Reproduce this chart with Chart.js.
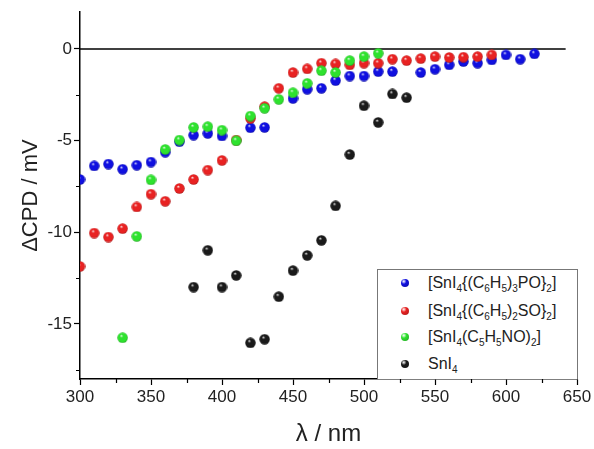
<!DOCTYPE html>
<html>
<head>
<meta charset="utf-8">
<script src="https://cdn.jsdelivr.net/npm/chart.js@4/dist/chart.umd.min.js"></script>
<style>
  html, body { margin: 0; padding: 0; background: #fff; }
  #wrap { position: relative; width: 594px; height: 449px; }
  #legend {
    position: absolute; left: 377px; top: 269px; width: 199px; height: 109px;
    border: 1px solid #777; border-bottom: none; background: #fff;
    font-family: "Liberation Sans", Arial, sans-serif; font-size: 16px; color: #222;
  }
  .row { position: absolute; left: 0; height: 20px; line-height: 20px; white-space: nowrap; }
  .dot { position: absolute; left: 23px; top: 6px; width: 8px; height: 8px; border-radius: 50%; }
  .lbl { position: absolute; left: 50px; top: 0; }
  sub { font-size: 10px; vertical-align: -4px; line-height: 0; }
</style>
</head>
<body>
<div id="wrap">
  <canvas id="chart" width="594" height="449"></canvas>
  <div id="legend"></div>
</div>
<script>
// --- data ---
const blueX = [300, 310, 320, 330, 340, 350, 360, 370, 380, 390, 400, 420, 430, 450, 460, 470, 480, 490, 500, 510, 520, 540, 550, 560, 570, 580, 590, 600, 610, 620];
const blueY = [-7.12, -6.38, -6.28, -6.56, -6.34, -6.17, -5.63, -5.06, -4.70, -4.61, -4.75, -4.30, -4.28, -2.70, -2.20, -2.15, -1.73, -1.48, -1.48, -1.24, -1.24, -1.29, -1.11, -0.87, -0.69, -0.78, -0.60, -0.33, -0.56, -0.27];

const redX = [300, 310, 320, 330, 340, 350, 360, 370, 380, 390, 400, 410, 420, 430, 440, 450, 460, 470, 480, 490, 500, 510, 520, 530, 540, 550, 560, 570, 580, 590];
const redY = [-11.86, -10.04, -10.26, -9.80, -8.62, -7.92, -8.31, -7.61, -7.12, -6.61, -6.08, -4.97, -3.79, -3.15, -2.15, -1.29, -1.09, -0.78, -0.82, -0.87, -0.78, -0.78, -0.56, -0.64, -0.53, -0.42, -0.47, -0.45, -0.42, -0.33];

const greenX = [330, 340, 350, 360, 370, 380, 390, 400, 410, 420, 430, 440, 450, 460, 470, 480, 490, 500, 510];
const greenY = [-15.75, -10.22, -7.14, -5.48, -4.97, -4.28, -4.24, -4.43, -5.01, -3.66, -3.24, -2.75, -2.39, -1.88, -1.19, -1.29, -0.64, -0.42, -0.24];

const blackX = [380, 390, 400, 410, 420, 430, 440, 450, 460, 470, 480, 490, 500, 510, 520, 530];
const blackY = [-12.99, -10.98, -12.99, -12.35, -16.03, -15.83, -13.51, -12.09, -11.26, -10.44, -8.56, -5.76, -3.10, -4.01, -2.46, -2.66];

const seriesNames = [
  '[SnI<sub>4</sub>{(C<sub>6</sub>H<sub>5</sub>)<sub>3</sub>PO}<sub>2</sub>]',
  '[SnI<sub>4</sub>{(C<sub>6</sub>H<sub>5</sub>)<sub>2</sub>SO}<sub>2</sub>]',
  '[SnI<sub>4</sub>(C<sub>5</sub>H<sub>5</sub>NO)<sub>2</sub>]',
  'SnI<sub>4</sub>'
];
const seriesColors = ['#1010e0', '#e82222', '#2ee22e', '#1a1a1a'];

const zeroLineX = [300, 642];
const zeroLineY = [0, 0];

const xTicks = [300, 325, 350, 375, 400, 425, 450, 475, 500, 525, 550, 575, 600, 625, 650];
const xLabels = ['300', '', '350', '', '400', '', '450', '', '500', '', '550', '', '600', '', '650'];
const yTicks = [-17.5, -15, -12.5, -10, -7.5, -5, -2.5, 0];
const yLabels = ['', '-15', '', '-10', '', '-5', '', '0'];

const FONT = '"Liberation Sans", Arial, sans-serif';

// shaded ball marker
function ball(color, size) {
  const c = document.createElement('canvas');
  c.width = size; c.height = size;
  const g = c.getContext('2d');
  const r = size / 2;
  const grad = g.createRadialGradient(r * 0.75, r * 0.6, 0, r, r, r);
  grad.addColorStop(0, '#ffffff');
  grad.addColorStop(0.3, color);
  grad.addColorStop(0.8, color);
  grad.addColorStop(1, shade(color));
  g.fillStyle = grad;
  g.beginPath();
  g.arc(r, r, r - 0.3, 0, Math.PI * 2);
  g.fill();
  return c;
}
function shade(hex) {
  const n = parseInt(hex.slice(1), 16);
  const f = v => Math.round(v * 0.7);
  return `rgb(${f(n >> 16)},${f((n >> 8) & 255)},${f(n & 255)})`;
}

const pts = (xs, ys) => xs.map((x, i) => ({ x, y: ys[i] }));
const seriesX = [blueX, redX, greenX, blackX];
const seriesY = [blueY, redY, greenY, blackY];

const datasets = seriesX.map((xs, i) => ({
  label: seriesNames[i].replace(/<[^>]+>/g, ''),
  data: pts(xs, seriesY[i]),
  showLine: false,
  pointStyle: ball(seriesColors[i], 11),
  order: 4 - i
}));
datasets.push({
  type: 'line',
  label: 'zero',
  data: pts(zeroLineX, zeroLineY),
  borderColor: '#000',
  borderWidth: 1.5,
  pointRadius: 0,
  order: 10
});

// minor ticks drawn short, majors by Chart.js
const minorTicks = {
  id: 'minorTicks',
  afterDraw(chart) {
    const ctx = chart.ctx;
    const xs = chart.scales.x, ys = chart.scales.y;
    ctx.save();
    ctx.strokeStyle = '#000';
    ctx.lineWidth = 1.2;
    ctx.beginPath();
    xTicks.forEach((v, i) => {
      if (xLabels[i]) return;
      const px = Math.round(xs.getPixelForValue(v)) + 0.5;
      ctx.moveTo(px, ys.bottom); ctx.lineTo(px, ys.bottom + 4);
    });
    yTicks.forEach((v, i) => {
      if (yLabels[i]) return;
      const py = Math.round(ys.getPixelForValue(v)) + 0.5;
      ctx.moveTo(xs.left, py); ctx.lineTo(xs.left - 4, py);
    });
    ctx.stroke();
    ctx.restore();
  }
};

const isMajor = (list, labels, v) => !!labels[list.indexOf(v)];

new Chart(document.getElementById('chart'), {
  type: 'scatter',
  data: { datasets },
  options: {
    responsive: false,
    animation: false,
    layout: { padding: { left: 14, right: 17, top: 10, bottom: 0 } },
    plugins: { legend: { display: false }, tooltip: { enabled: false } },
    scales: {
      x: {
        type: 'linear', min: 300, max: 650,
        afterBuildTicks: s => { s.ticks = xTicks.map(value => ({ value })); },
        afterFit: s => { s.height = 70; },
        border: { display: true, color: '#000', width: 1.5 },
        grid: {
          drawOnChartArea: false, tickLength: 6, tickWidth: 1.2,
          tickColor: c => (c.tick && isMajor(xTicks, xLabels, c.tick.value)) ? '#000' : 'rgba(0,0,0,0)'
        },
        ticks: {
          padding: 2, color: '#222', maxRotation: 0, autoSkip: false,
          font: { family: FONT, size: 17 },
          callback: (v, i) => xLabels[i]
        },
        title: { display: true, text: 'λ / nm', color: '#222', padding: 0, font: { family: FONT, size: 24 } }
      },
      y: {
        type: 'linear', min: -18, max: 2,
        afterBuildTicks: s => { s.ticks = yTicks.map(value => ({ value })); },
        afterFit: s => { s.width = 66; },
        border: { display: true, color: '#000', width: 1.5 },
        grid: {
          drawOnChartArea: false, tickLength: 6, tickWidth: 1.2,
          tickColor: c => (c.tick && isMajor(yTicks, yLabels, c.tick.value)) ? '#000' : 'rgba(0,0,0,0)'
        },
        ticks: {
          padding: 2, color: '#222', autoSkip: false,
          font: { family: FONT, size: 17 },
          callback: (v, i) => yLabels[i]
        },
        title: { display: true, text: 'ΔCPD / mV', color: '#222', padding: { top: 4, bottom: 0 }, font: { family: FONT, size: 22 } }
      }
    }
  },
  plugins: [minorTicks]
});

// legend with subscripts, placed inside the plot like the original
const rowTops = [3, 31, 57, 84];
document.getElementById('legend').innerHTML = seriesNames.map((name, i) => `
  <div class="row" style="top:${rowTops[i]}px">
    <span class="dot" style="background:radial-gradient(circle at 35% 30%, #fff 0%, ${seriesColors[i]} 35%, ${shade(seriesColors[i])} 100%)"></span>
    <span class="lbl">${name}</span>
  </div>`).join('');
</script>
</body>
</html>
